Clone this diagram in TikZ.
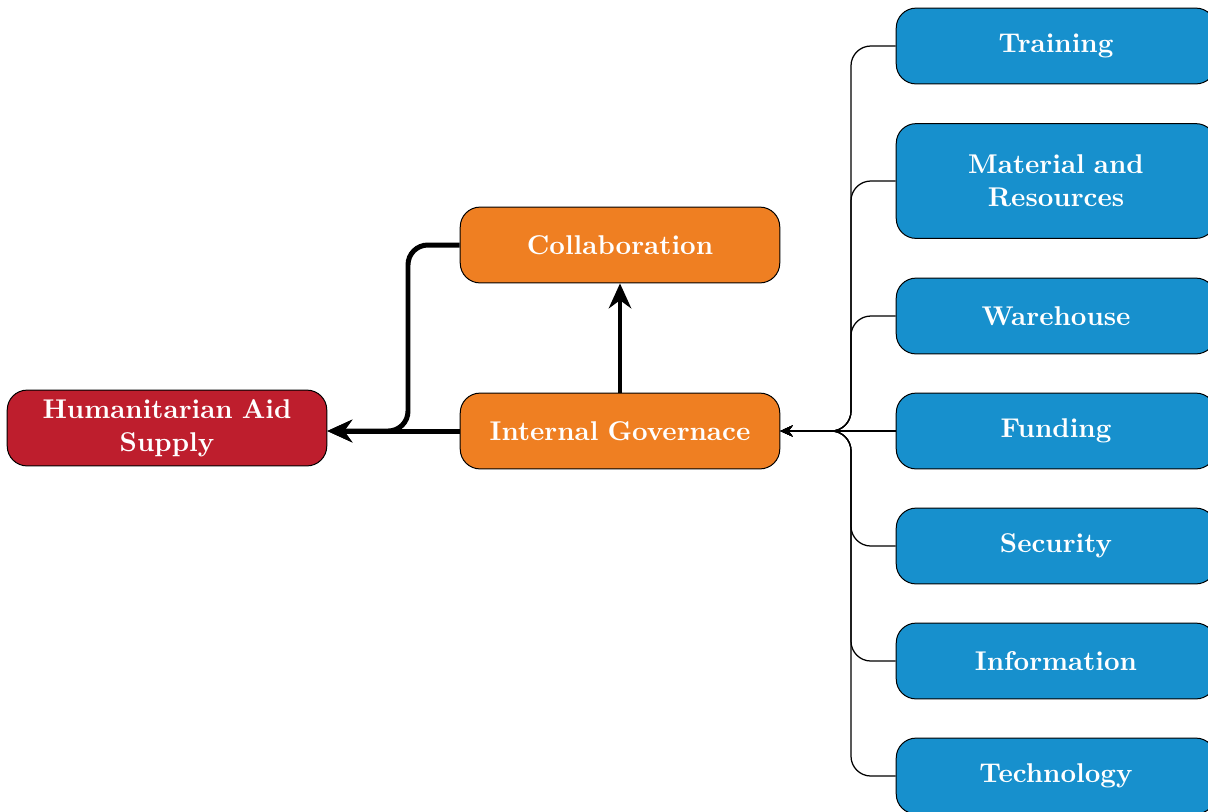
\documentclass[tikz,border=0pt]{standalone}
\usetikzlibrary{arrows.meta}
\definecolor{aidred}{HTML}{BE1E2D}
\definecolor{govorange}{HTML}{EF7F22}
\definecolor{factorblue}{HTML}{1790CD}
\begin{document}
\begin{tikzpicture}[x=0.01411cm,y=-0.01411cm,
  box/.style={draw=black,rounded corners=0.28cm,minimum width=4.51cm,minimum height=1.07cm,
    text width=4.2cm,align=center,text=white,font=\fontsize{10.9}{13.2}\selectfont\bfseries,inner sep=2pt},
  redbox/.style={box,fill=aidred},
  orangebox/.style={box,fill=govorange},
  bluebox/.style={box,fill=factorblue},
  heavy/.style={line width=2pt,-{Stealth[length=10pt,width=9pt]},rounded corners=0.28cm},
  feed/.style={line width=0.5pt,-{Stealth[length=5pt,width=4.5pt]},rounded corners=0.28cm}]
\useasboundingbox (0,0) rectangle (1208,811);
\clip (0,0) rectangle (1208,811);

\node[redbox] (aid) at (167,428) {Humanitarian Aid\\Supply};
\node[orangebox] (gov) at (620,431) {Internal Governace};
\node[orangebox] (col) at (620,245) {Collaboration};

\node[bluebox] (tra) at (1056,46) {Training};
\node[bluebox,minimum height=1.62cm] (mat) at (1056,181) {Material and\\Resources};
\node[bluebox] (war) at (1056,316) {Warehouse};
\node[bluebox] (fun) at (1056,431) {Funding};
\node[bluebox] (sec) at (1056,546) {Security};
\node[bluebox] (inf) at (1056,661) {Information};
\node[bluebox] (tec) at (1056,776) {Technology};

% governance feeds the supply and the collaboration
\draw[heavy] (gov.west) -- (aid.east |- gov.west);
\draw[heavy] (col.west) -| (408,431) -- (aid.east |- gov.west);
\draw[heavy] (gov.north) -- (col.south);

% factors feeding internal governance
\foreach \n in {tra,mat,war,sec,inf,tec}
  \draw[feed] (\n.west) -| (851,431) -- (gov.east);
\draw[feed] (fun.west) -- (gov.east);
\end{tikzpicture}
\end{document}
